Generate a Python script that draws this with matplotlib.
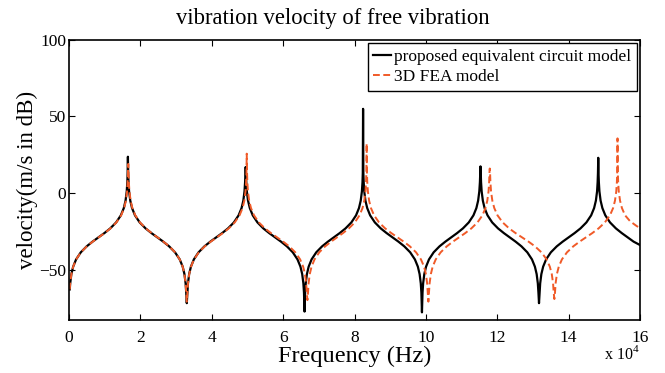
import matplotlib
matplotlib.use("Agg")
import matplotlib.pyplot as plt

plt.rcParams["font.family"] = ["Liberation Serif", "DejaVu Serif"]
plt.rcParams["mathtext.fontset"] = "custom"
plt.rcParams["mathtext.rm"] = "Liberation Serif"

# frequencies in units of 10^4 Hz, velocity in dB,
# one line per half-wave between an anti-resonance and a resonance
circuit_freq = [
    0.020, 0.033, 0.066, 0.116, 0.198, 0.33, 0.495, 0.66, 0.825, 0.99, 1.155, 1.32, 1.452, 1.535, 1.584, 1.617, 1.634, 1.642, 1.65,
    1.658, 1.667, 1.683, 1.716, 1.766, 1.848, 1.98, 2.145, 2.31, 2.475, 2.64, 2.805, 2.97, 3.102, 3.185, 3.234, 3.267, 3.284, 3.30,
    3.317, 3.333, 3.366, 3.416, 3.498, 3.63, 3.795, 3.96, 4.125, 4.29, 4.455, 4.62, 4.752, 4.835, 4.884, 4.917, 4.934, 4.942, 4.95,
    4.958, 4.967, 4.983, 5.016, 5.066, 5.148, 5.28, 5.445, 5.61, 5.775, 5.94, 6.105, 6.27, 6.402, 6.485, 6.534, 6.567, 6.584, 6.60,
    6.616, 6.633, 6.666, 6.715, 6.797, 6.928, 7.092, 7.256, 7.42, 7.584, 7.748, 7.912, 8.043, 8.125, 8.174, 8.207, 8.224, 8.232, 8.24,
    8.248, 8.257, 8.273, 8.306, 8.356, 8.438, 8.57, 8.735, 8.90, 9.065, 9.23, 9.395, 9.56, 9.692, 9.775, 9.824, 9.857, 9.874, 9.89,
    9.906, 9.923, 9.956, 10.005, 10.087, 10.218, 10.382, 10.546, 10.71, 10.874, 11.038, 11.202, 11.333, 11.415, 11.464, 11.497, 11.514, 11.522, 11.53,
    11.538, 11.546, 11.563, 11.596, 11.645, 11.727, 11.858, 12.022, 12.186, 12.35, 12.514, 12.678, 12.842, 12.973, 13.055, 13.104, 13.137, 13.154, 13.17,
    13.187, 13.203, 13.236, 13.286, 13.369, 13.502, 13.668, 13.834, 14.0, 14.166, 14.332, 14.498, 14.631, 14.714, 14.764, 14.797, 14.813, 14.822, 14.83,
    14.838, 14.847, 14.863, 14.896, 14.946, 15.028, 15.16, 15.325, 15.49, 15.655, 15.82, 16.0,
]
circuit_db = [
    -63, -59.05, -53, -48.14, -43.4, -38.77, -34.86, -31.78, -29, -26.22, -23.14, -19.23, -14.6, -9.86, -5, 1.05, 7.1, 13.1, 23.7,
    13.1, 7.1, 1.05, -5, -9.86, -14.6, -19.23, -23.14, -26.22, -29, -31.78, -34.86, -38.77, -43.4, -48.14, -53, -59.05, -65.1, -72,
    -65.1, -59.05, -53, -48.14, -43.4, -38.77, -34.86, -31.78, -29, -26.22, -23.14, -19.23, -14.6, -9.86, -5, 1.05, 7.1, 13.1, 17,
    13.1, 7.1, 1.05, -5, -9.86, -14.6, -19.23, -23.14, -26.22, -29, -31.78, -34.86, -38.77, -43.4, -48.14, -53, -59.05, -65.1, -77.5,
    -65.1, -59.05, -53, -48.14, -43.4, -38.77, -34.86, -31.78, -29, -26.22, -23.14, -19.23, -14.6, -9.86, -5, 1.05, 7.1, 13.1, 55,
    13.1, 7.1, 1.05, -5, -9.86, -14.6, -19.23, -23.14, -26.22, -29, -31.78, -34.86, -38.77, -43.4, -48.14, -53, -59.05, -65.1, -78,
    -65.1, -59.05, -53, -48.14, -43.4, -38.77, -34.86, -31.78, -29, -26.22, -23.14, -19.23, -14.6, -9.86, -5, 1.05, 7.1, 13.1, 17.4,
    13.1, 7.1, 1.05, -5, -9.86, -14.6, -19.23, -23.14, -26.22, -29, -31.78, -34.86, -38.77, -43.4, -48.14, -53, -59.05, -65.1, -72,
    -65.1, -59.05, -53, -48.14, -43.4, -38.77, -34.86, -31.78, -29, -26.22, -23.14, -19.23, -14.6, -9.86, -5, 1.05, 7.1, 13.1, 23,
    13.1, 7.1, 1.05, -5, -9.86, -14.6, -19.23, -23.14, -26.22, -29, -31.78, -34,
]

fea_freq = [
    0.020, 0.033, 0.066, 0.116, 0.199, 0.332, 0.498, 0.664, 0.83, 0.996, 1.162, 1.328, 1.461, 1.544, 1.594, 1.627, 1.643, 1.652, 1.66,
    1.668, 1.676, 1.693, 1.726, 1.775, 1.857, 1.988, 2.152, 2.316, 2.48, 2.644, 2.808, 2.972, 3.103, 3.185, 3.234, 3.267, 3.284, 3.30,
    3.317, 3.334, 3.367, 3.418, 3.502, 3.636, 3.804, 3.972, 4.14, 4.308, 4.476, 4.644, 4.778, 4.862, 4.913, 4.946, 4.963, 4.972, 4.98,
    4.989, 4.997, 5.014, 5.048, 5.099, 5.184, 5.32, 5.49, 5.66, 5.83, 6.0, 6.17, 6.34, 6.476, 6.561, 6.612, 6.646, 6.663, 6.68,
    6.697, 6.713, 6.746, 6.796, 6.879, 7.012, 7.178, 7.344, 7.51, 7.676, 7.842, 8.008, 8.141, 8.224, 8.274, 8.307, 8.323, 8.332, 8.34,
    8.349, 8.357, 8.375, 8.409, 8.461, 8.548, 8.686, 8.859, 9.032, 9.205, 9.378, 9.551, 9.724, 9.862, 9.949, 10.001, 10.035, 10.053, 10.07,
    10.087, 10.104, 10.139, 10.19, 10.276, 10.414, 10.586, 10.758, 10.93, 11.102, 11.274, 11.446, 11.584, 11.67, 11.721, 11.756, 11.773, 11.781, 11.79,
    11.799, 11.808, 11.826, 11.862, 11.917, 12.007, 12.152, 12.333, 12.514, 12.695, 12.876, 13.057, 13.238, 13.383, 13.473, 13.528, 13.564, 13.582, 13.60,
    13.618, 13.635, 13.671, 13.724, 13.812, 13.954, 14.131, 14.308, 14.485, 14.662, 14.839, 15.016, 15.158, 15.246, 15.299, 15.335, 15.352, 15.361, 15.37,
    15.379, 15.388, 15.405, 15.441, 15.494, 15.582, 15.724, 15.901, 16.0,
]
fea_db = [
    -63, -59.05, -53, -48.14, -43.4, -38.77, -34.86, -31.78, -29, -26.22, -23.14, -19.23, -14.6, -9.86, -5, 1.05, 7.1, 13.1, 19,
    13.1, 7.1, 1.05, -5, -9.86, -14.6, -19.23, -23.14, -26.22, -29, -31.78, -34.86, -38.77, -43.4, -48.14, -53, -59.05, -65.1, -71,
    -65.1, -59.05, -53, -48.14, -43.4, -38.77, -34.86, -31.78, -29, -26.22, -23.14, -19.23, -14.6, -9.86, -5, 1.05, 7.1, 13.1, 25.7,
    13.1, 7.1, 1.05, -5, -9.86, -14.6, -19.23, -23.14, -26.22, -29, -31.78, -34.86, -38.77, -43.4, -48.14, -53, -59.05, -65.1, -70,
    -65.1, -59.05, -53, -48.14, -43.4, -38.77, -34.86, -31.78, -29, -26.22, -23.14, -19.23, -14.6, -9.86, -5, 1.05, 7.1, 13.1, 32.4,
    13.1, 7.1, 1.05, -5, -9.86, -14.6, -19.23, -23.14, -26.22, -29, -31.78, -34.86, -38.77, -43.4, -48.14, -53, -59.05, -65.1, -71,
    -65.1, -59.05, -53, -48.14, -43.4, -38.77, -34.86, -31.78, -29, -26.22, -23.14, -19.23, -14.6, -9.86, -5, 1.05, 7.1, 13.1, 16,
    13.1, 7.1, 1.05, -5, -9.86, -14.6, -19.23, -23.14, -26.22, -29, -31.78, -34.86, -38.77, -43.4, -48.14, -53, -59.05, -65.1, -69.3,
    -65.1, -59.05, -53, -48.14, -43.4, -38.77, -34.86, -31.78, -29, -26.22, -23.14, -19.23, -14.6, -9.86, -5, 1.05, 7.1, 13.1, 35.7,
    13.1, 7.1, 1.05, -5, -9.86, -14.6, -18.5, -21.5, -23,
]

x_ticks = [0, 2, 4, 6, 8, 10, 12, 14, 16]
y_ticks = [-50, 0, 50, 100]

fig = plt.figure(figsize=(6.65, 3.73), dpi=100)
ax = fig.add_axes([0.1038, 0.1421, 0.8586, 0.7507])

ax.plot(circuit_freq, circuit_db, color="black", linewidth=1.6,
        label="proposed equivalent circuit model")
ax.plot(fea_freq, fea_db, color="#f05a28", linewidth=1.4, linestyle="--",
        dashes=(3.5, 1.8), label="3D FEA model")

ax.set_xlim(0, 16)
ax.set_ylim(-83, 100)
ax.set_xticks(x_ticks)
ax.set_yticks(y_ticks)
ax.tick_params(direction="in", top=True, right=True, length=4, width=0.8,
               labelsize=12.5)
ax.tick_params(axis="x", pad=7)
ax.tick_params(axis="y", pad=2)
for s in ax.spines.values():
    s.set_linewidth(1.2)

ax.set_xlabel("Frequency (Hz)", fontsize=17.5, labelpad=0)
ax.set_ylabel("velocity(m/s in dB)", fontsize=16.5, labelpad=1)
fig.text(0.5, 0.935, "vibration velocity of free vibration", ha="center",
         fontsize=16.3)
ax.text(1.0, -0.09, r"x 10$^4$", transform=ax.transAxes, ha="right",
        va="top", fontsize=11.5)

leg = ax.legend(loc="upper right", fontsize=12.5, handlelength=1.0,
                handletextpad=0.2, borderpad=0.3, labelspacing=0.25,
                borderaxespad=0.2, fancybox=False, framealpha=1)
leg.get_frame().set_edgecolor("black")
leg.get_frame().set_linewidth(1.0)

fig.savefig("out.png", dpi=100)
